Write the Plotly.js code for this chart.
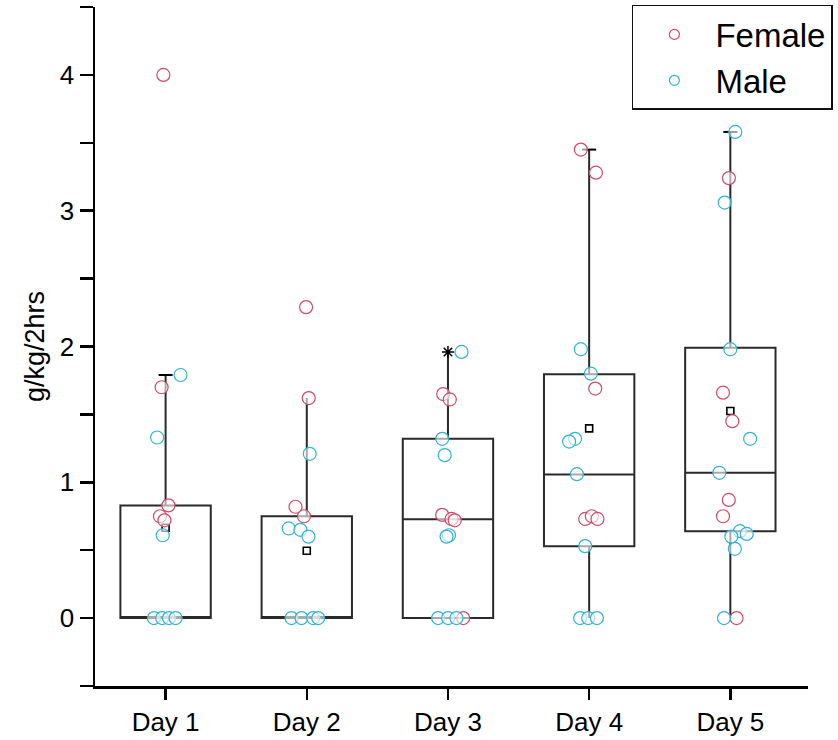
<!DOCTYPE html>
<html>
<head>
<meta charset="utf-8">
<script src="https://cdn.plot.ly/plotly-3.0.1.min.js"></script>
<style>
  html, body { margin: 0; padding: 0; background: #fff; }
  #chart { width: 838px; height: 740px; }
</style>
</head>
<body>
<div id="chart"></div>
<script>
// ---- data ----
const days = ['Day 1', 'Day 2', 'Day 3', 'Day 4', 'Day 5'];

// values per day
const femaleValues = [
  [4.00, 1.70, 0.83, 0.75, 0.72],
  [2.29, 1.62, 0.82, 0.75],
  [1.65, 1.61, 0.76, 0.73, 0.72, 0.00],
  [3.45, 3.28, 1.69, 0.73, 0.75, 0.73],
  [3.24, 1.66, 1.45, 0.87, 0.75, 0.00]
];
// horizontal jitter of each point (category units)
const femaleJitter = [
  [-0.016, -0.028, 0.020, -0.040, -0.008],
  [-0.005, 0.014, -0.080, -0.020],
  [-0.034, 0.013, -0.041, 0.025, 0.048, 0.108],
  [-0.059, 0.048, 0.043, -0.028, 0.019, 0.059],
  [-0.010, -0.052, 0.014, -0.011, -0.052, 0.044]
];

const maleValues = [
  [1.79, 1.33, 0.61, 0, 0, 0, 0],
  [1.21, 0.66, 0.65, 0.60, 0, 0, 0, 0],
  [1.96, 1.32, 1.20, 0.61, 0.60, 0, 0, 0],
  [1.98, 1.80, 1.32, 1.30, 1.06, 0.53, 0, 0, 0],
  [3.58, 3.06, 1.98, 1.32, 1.07, 0.64, 0.62, 0.60, 0.51, 0]
];
const maleJitter = [
  [0.106, -0.060, -0.020, -0.083, -0.024, 0.024, 0.071],
  [0.021, -0.128, -0.045, 0.012, -0.108, -0.037, 0.045, 0.081],
  [0.096, -0.041, -0.023, 0.007, -0.010, -0.070, 0.001, 0.060],
  [-0.059, 0.012, -0.100, -0.142, -0.087, -0.028, -0.064, -0.007, 0.055],
  [0.035, -0.040, 0.000, 0.140, -0.078, 0.068, 0.116, 0.007, 0.032, -0.045]
];

// box statistics
const boxQ1 = [0, 0, 0, 0.53, 0.64];
const boxMedian = [0, 0, 0.727, 1.058, 1.07];
const boxQ3 = [0.83, 0.75, 1.32, 1.795, 1.99];
const whiskerLow = [0, 0, 0, 0, 0];
const whiskerHigh = [1.79, 1.62, 1.96, 3.45, 3.58];
const boxMean = [0.665, 0.496, null, 1.397, 1.525];
// max markers ("-" or "*") shown at the top of whiskers
const maxMark = [1.79, null, null, 3.45, 3.58];
const starMark = [null, null, 1.96, null, null];

// ---- build traces ----
const idx = days.map((d, i) => i);
const femaleColor = '#cf4a64';
const maleColor = '#2fb3d3';
const pointFill = 'rgba(255,255,255,0.6)';

function flatten(vals, jit) {
  const xs = [], ys = [];
  vals.forEach((arr, i) => arr.forEach((v, j) => { xs.push(i + jit[i][j]); ys.push(v); }));
  return { xs, ys };
}
const f = flatten(femaleValues, femaleJitter);
const m = flatten(maleValues, maleJitter);

const traces = [
  {
    type: 'box', x: idx, q1: boxQ1, median: boxMedian, q3: boxQ3,
    lowerfence: whiskerLow, upperfence: whiskerHigh,
    width: 0.64, whiskerwidth: 0, boxpoints: false,
    line: { color: '#2a2a2a', width: 2 }, fillcolor: 'rgba(0,0,0,0)',
    showlegend: false, hoverinfo: 'skip'
  },
  {
    type: 'scatter', mode: 'markers', x: idx, y: boxMean, showlegend: false,
    marker: { symbol: 'square-open', size: 7, color: '#000', line: { width: 1.6, color: '#000' } }
  },
  {
    type: 'scatter', mode: 'markers', x: idx, y: maxMark, showlegend: false,
    marker: { symbol: 'line-ew', size: 10, color: '#000', line: { width: 2, color: '#000' } }
  },
  {
    type: 'scatter', mode: 'markers', x: idx, y: starMark, showlegend: false,
    marker: { symbol: 'asterisk', size: 10, color: '#000', line: { width: 1.5, color: '#000' } }
  },
  {
    type: 'scatter', mode: 'markers', name: 'Female', x: f.xs, y: f.ys, showlegend: false,
    marker: { symbol: 'circle', size: 13, color: pointFill, line: { width: 1.2, color: femaleColor } }
  },
  {
    type: 'scatter', mode: 'markers', name: 'Male', x: m.xs, y: m.ys, showlegend: false,
    marker: { symbol: 'circle', size: 13, color: pointFill, line: { width: 1.2, color: maleColor } }
  },
  // legend entries
  {
    type: 'scatter', mode: 'markers', name: 'Female', x: [null], y: [null],
    marker: { symbol: 'circle-open', size: 10, color: femaleColor, line: { width: 1.2 } }
  },
  {
    type: 'scatter', mode: 'markers', name: 'Male', x: [null], y: [null],
    marker: { symbol: 'circle-open', size: 10, color: maleColor, line: { width: 1.2 } }
  }
];

const font = 'Liberation Sans, Arial, sans-serif';
const layout = {
  width: 838, height: 740,
  margin: { l: 95, r: 30, t: 7, b: 54, autoexpand: false },
  paper_bgcolor: '#fff', plot_bgcolor: '#fff',
  font: { family: font, color: '#000' },
  showlegend: true,
  legend: {
    x: 0.753, y: 1.003, xanchor: 'left', yanchor: 'top',
    bordercolor: '#111', borderwidth: 1.5, bgcolor: '#fff',
    font: { size: 33, family: font, color: '#000' },
    itemwidth: 72
  },
  xaxis: {
    range: [-0.5, 4.55], tickvals: idx, ticktext: days, automargin: false,
    showgrid: false, zeroline: false, showline: true, linecolor: '#000', linewidth: 2.5,
    ticks: 'outside', ticklen: 11, tickwidth: 2.5, tickcolor: '#000',
    tickfont: { size: 26, family: font }
  },
  yaxis: {
    range: [-0.5, 4.5], tickvals: [0, 1, 2, 3, 4], automargin: false,
    showgrid: false, zeroline: false, showline: true, linecolor: '#000', linewidth: 2.5,
    ticks: 'outside', ticklen: 13, tickwidth: 2.5, tickcolor: '#000',
    tickfont: { size: 26, family: font },
    minor: { dtick: 0.5, tick0: 0, ticks: 'outside', ticklen: 13, tickwidth: 2.5, tickcolor: '#000' },
    title: { text: 'g/kg/2hrs', font: { size: 27, family: font }, standoff: 8 }
  }
};

Plotly.newPlot('chart', traces, layout, { staticPlot: true });
</script>
</body>
</html>
